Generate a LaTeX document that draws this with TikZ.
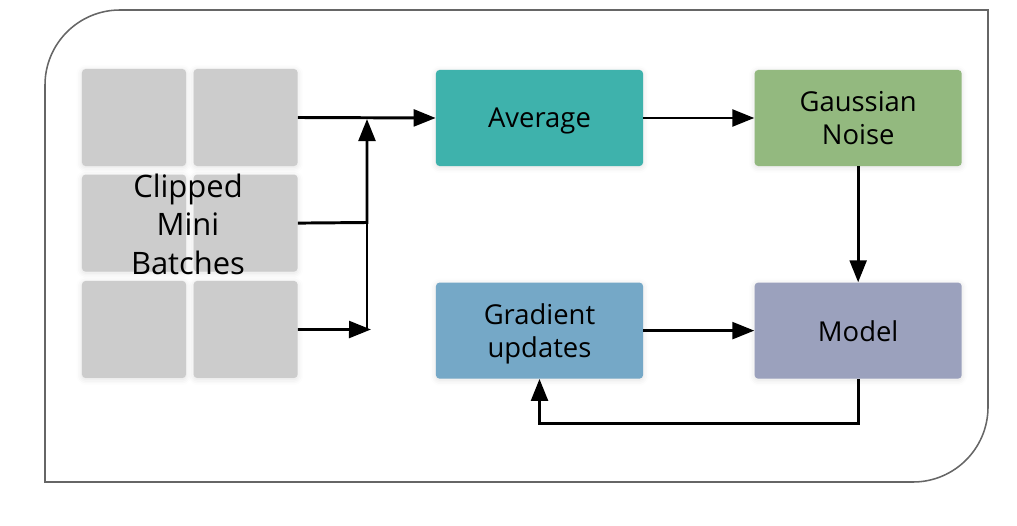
\documentclass[tikz,border=0pt]{standalone}
\usepackage{fontspec}
\setmainfont{Open Sans}
\usetikzlibrary{positioning,arrows.meta,shadows.blur}
\definecolor{avgteal}{HTML}{3EB2AC}
\definecolor{noisegreen}{HTML}{93B97F}
\definecolor{gradblue}{HTML}{75A8C7}
\definecolor{modelslate}{HTML}{9BA1BD}
\definecolor{cellgray}{HTML}{CCCCCC}
\definecolor{framegray}{HTML}{666666}
\tikzstyle{soft}=[blur shadow={shadow xshift=0pt,shadow yshift=-1pt,shadow blur radius=4pt,shadow opacity=12}]
\tikzstyle{blk}=[rectangle,rounded corners=2.5pt,minimum width=5.175cm,minimum height=2.4cm,inner sep=0pt,align=center,text depth=0pt,font=\fontsize{19.5}{23}\selectfont,soft]
\tikzstyle{cell}=[rectangle,fill=cellgray,rounded corners=2.5pt,minimum width=2.6cm,minimum height=2.425cm,inner sep=0pt,soft]
\tikzstyle{arr}=[-{Triangle[length=0.55cm,width=0.42cm]},line width=2.1pt]
\tikzstyle{seg}=[line width=2.1pt]
\begin{document}
\begin{tikzpicture}[x=0.025cm,y=-0.025cm]
\useasboundingbox (0,0) rectangle (1017,525);
% outer frame
\draw [framegray,line width=1.1pt] (45,482) -- (45,85) arc[start angle=180,end angle=270,radius=75]
  -- (988,10) -- (988,407) arc[start angle=0,end angle=90,radius=75] -- cycle;
% clipped mini batches
\node (c11) [cell] at (134,117.5) {};
\node (c12) [cell, right=0.175cm of c11] {};
\node (c21) [cell, below=0.2cm of c11] {};
\node (c22) [cell, right=0.175cm of c21] {};
\node (c31) [cell, below=0.22cm of c21] {};
\node (c32) [cell, right=0.175cm of c31] {};
\node (lbl) [align=center, text depth=0pt, font=\fontsize{22}{27.5}\selectfont] at (188,224) {Clipped\\Mini\\Batches};
% pipeline
\node (avg) [blk, fill=avgteal] at (539.5,118) {Average};
\node (noise) [blk, fill=noisegreen, right=2.775cm of avg] {Gaussian\\Noise};
\node (grad) [blk, fill=gradblue, below=2.9cm of avg] {Gradient\\updates};
\node (mdl) [blk, fill=modelslate, right=2.775cm of grad] {Model};
% joins
\coordinate (jtop) at (367,119);
\coordinate (jmid) at (367,222.5);
\coordinate (jbot) at (371,329.5);
\draw [arr] (c12.east) -- (avg.west);
\draw [arr] (c22.east) -- (jmid) -- (jtop);
\draw [arr] (c32.east) -- (jbot);
\draw [seg] (367,329.5) -- (jmid);
\draw [arr] (avg) -- (noise);
\draw [arr] (noise) -- (mdl);
\draw [arr] (grad) -- (mdl);
\draw [arr] (mdl.south) -- ++(0,45) -| (grad.south);
\end{tikzpicture}
\end{document}
